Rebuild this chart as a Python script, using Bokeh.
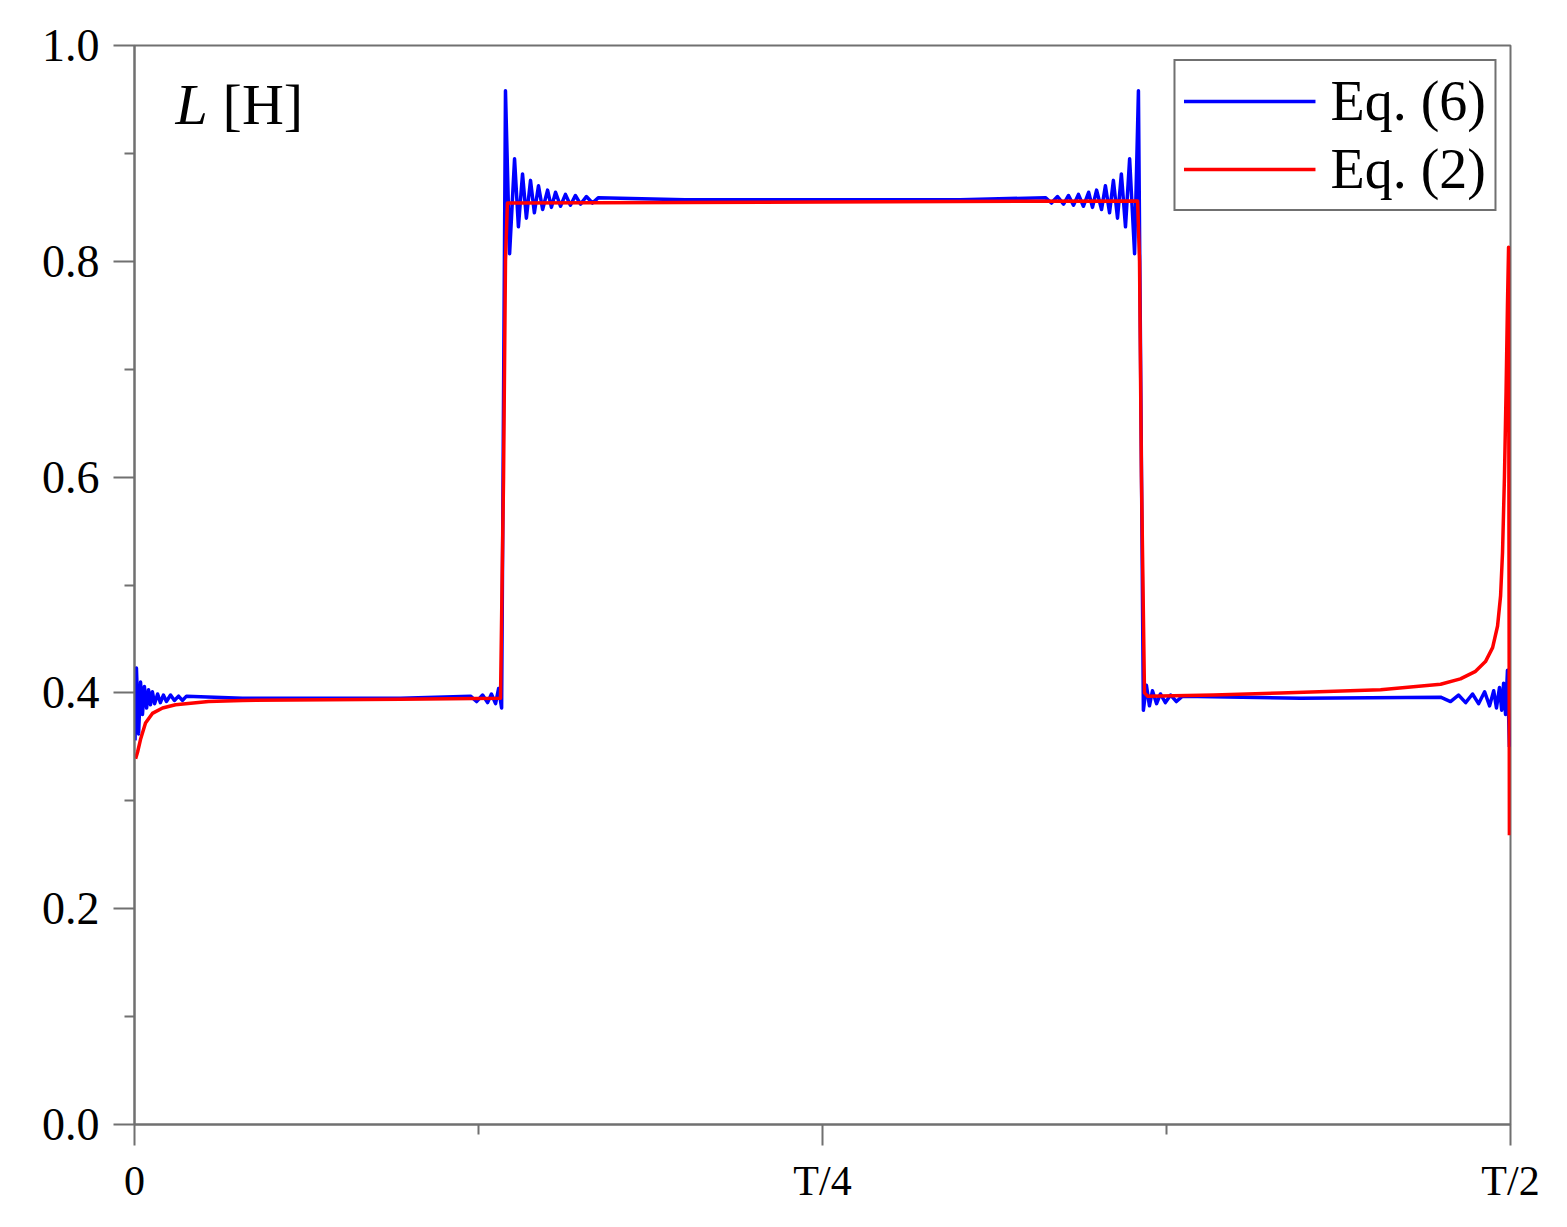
from bokeh.plotting import figure
from bokeh.models import FixedTicker, Label, Legend
from bokeh.embed import file_html
from bokeh.resources import INLINE

# ---- data (x in units of the period T, y = inductance L in H) ----
blue_t = [0.0002, 0.0007, 0.0015, 0.0022, 0.0029, 0.0036, 0.0044, 0.0051, 0.0058, 0.0065,
          0.0073, 0.0084, 0.0094, 0.0105, 0.0116, 0.0131, 0.0145, 0.0160, 0.0174, 0.0189,
          0.0392, 0.0967, 0.1221, 0.1243, 0.1265, 0.1283, 0.1297, 0.1312, 0.1323, 0.1334,
          0.1348, 0.1363, 0.1381, 0.1395, 0.1410, 0.1424, 0.1439, 0.1453, 0.1468, 0.1483,
          0.1501, 0.1515, 0.1530, 0.1548, 0.1566, 0.1584, 0.1602, 0.1621, 0.1642, 0.1664,
          0.1686, 0.2000, 0.3000, 0.3310, 0.3332, 0.3354, 0.3376, 0.3394, 0.3412, 0.3430,
          0.3448, 0.3467, 0.3481, 0.3496, 0.3514, 0.3528, 0.3543, 0.3557, 0.3572, 0.3586,
          0.3601, 0.3616, 0.3634, 0.3648, 0.3666, 0.3677, 0.3688, 0.3699, 0.3714, 0.3728,
          0.3746, 0.3765, 0.3786, 0.3808, 0.4237, 0.4746, 0.4782, 0.4811, 0.4837, 0.4862,
          0.4884, 0.4906, 0.4924, 0.4939, 0.4949, 0.4960, 0.4968, 0.4975, 0.4982, 0.4989,
          0.4996]
blue_L = [0.356, 0.423, 0.362, 0.410, 0.380, 0.406, 0.386, 0.403, 0.389, 0.401,
          0.390, 0.399, 0.391, 0.398, 0.392, 0.398, 0.393, 0.397, 0.393, 0.397,
          0.395, 0.395, 0.397, 0.392, 0.398, 0.391, 0.399, 0.390, 0.404, 0.386,
          0.958, 0.807, 0.895, 0.832, 0.881, 0.840, 0.875, 0.845, 0.870, 0.848,
          0.866, 0.850, 0.864, 0.851, 0.862, 0.852, 0.861, 0.853, 0.860, 0.854,
          0.859, 0.857, 0.857, 0.859, 0.854, 0.860, 0.853, 0.861, 0.852, 0.862,
          0.851, 0.864, 0.850, 0.866, 0.848, 0.870, 0.845, 0.875, 0.840, 0.881,
          0.832, 0.895, 0.807, 0.958, 0.384, 0.407, 0.388, 0.402, 0.390, 0.399,
          0.391, 0.398, 0.392, 0.397, 0.395, 0.396, 0.392, 0.398, 0.391, 0.399,
          0.390, 0.401, 0.388, 0.402, 0.386, 0.405, 0.384, 0.409, 0.380, 0.421,
          0.350]

red_t = [0.0004, 0.0011, 0.0022, 0.0040, 0.0065, 0.0102, 0.0149, 0.0269, 0.0392, 0.0967,
         0.1330, 0.1341, 0.1348, 0.1355, 0.2500, 0.3645, 0.3652, 0.3659, 0.3670, 0.3681,
         0.3921, 0.4164, 0.4528, 0.4746, 0.4818, 0.4873, 0.4909, 0.4935, 0.4953, 0.4964,
         0.4971, 0.4978, 0.4984, 0.4989, 0.4993, 0.4996]
red_L = [0.339, 0.345, 0.357, 0.372, 0.381, 0.386, 0.389, 0.392, 0.393, 0.394,
         0.395, 0.600, 0.800, 0.854, 0.855, 0.856, 0.800, 0.600, 0.400, 0.397,
         0.398, 0.400, 0.403, 0.408, 0.413, 0.420, 0.429, 0.442, 0.462, 0.490,
         0.530, 0.600, 0.680, 0.760, 0.813, 0.268]

series_names = ["Eq. (6)", "Eq. (2)"]
x_ticks = [0, 0.25, 0.5]
x_tick_labels = ["0", "T/4", "T/2"]
x_minor = [0.125, 0.375]
y_ticks = [0.0, 0.2, 0.4, 0.6, 0.8, 1.0]
y_tick_labels = ["0.0", "0.2", "0.4", "0.6", "0.8", "1.0"]
y_minor = [0.1, 0.3, 0.5, 0.7, 0.9]

FONT = "Liberation Serif"
AX = "#707070"

p = figure(frame_width=1376, frame_height=1079, x_range=(0, 0.5), y_range=(0, 1.0),
           output_backend="svg", toolbar_location=None,
           min_border_left=134, min_border_right=49, min_border_top=45, min_border_bottom=95)
p.background_fill_color = "white"
p.border_fill_color = "white"
p.grid.visible = False
p.outline_line_color = AX
p.outline_line_width = 2

r1 = p.line(blue_t, blue_L, line_color="#0000ff", line_width=3.5, line_join="round")
r2 = p.line(red_t, red_L, line_color="#ff0000", line_width=3.5, line_join="round")

p.xaxis.ticker = FixedTicker(ticks=x_ticks, minor_ticks=x_minor)
p.xaxis.major_label_overrides = {t: l for t, l in zip(x_ticks, x_tick_labels)}
p.yaxis.ticker = FixedTicker(ticks=y_ticks, minor_ticks=y_minor)
p.yaxis.major_label_overrides = {t: l for t, l in zip(y_ticks, y_tick_labels)}

for ax in (p.xaxis, p.yaxis):
    ax.axis_line_color = AX
    ax.axis_line_width = 2
    ax.major_tick_line_color = AX
    ax.major_tick_line_width = 2
    ax.minor_tick_line_color = AX
    ax.minor_tick_line_width = 2
    ax.major_tick_in = 0
    ax.major_tick_out = 21
    ax.minor_tick_in = 0
    ax.minor_tick_out = 10
    ax.major_label_text_font = FONT
    ax.major_label_text_color = "black"
p.xaxis.major_label_text_font_size = "42px"
p.xaxis.major_label_standoff = 12
p.yaxis.major_label_text_font_size = "46px"
p.yaxis.major_label_standoff = 14

p.add_layout(Label(x=0.0149, y=0.945, text="L", text_font=FONT, text_font_style="italic",
                   text_font_size="58px", text_color="black", text_baseline="alphabetic"))
p.add_layout(Label(x=0.0320, y=0.945, text="[H]", text_font=FONT,
                   text_font_size="58px", text_color="black", text_baseline="alphabetic"))

legend = Legend(items=[(series_names[0], [r1]), (series_names[1], [r2])],
                location="top_right")
legend.label_text_font = FONT
legend.label_text_font_size = "56px"
legend.label_text_color = "black"
legend.glyph_width = 132
legend.label_standoff = 15
legend.padding = 8
legend.spacing = 4
legend.margin = 14
legend.border_line_color = AX
legend.border_line_width = 2
legend.border_line_alpha = 1.0
legend.background_fill_alpha = 1
p.add_layout(legend)

open("out.html", "w").write(file_html(p, INLINE))
